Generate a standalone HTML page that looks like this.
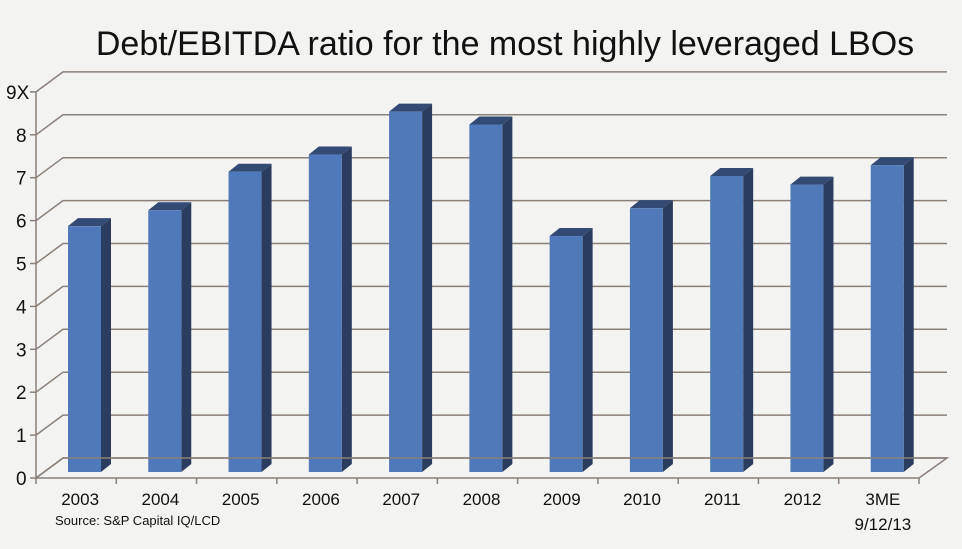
<!DOCTYPE html>
<html><head><meta charset="utf-8"><style>
body{margin:0;background:#f3f3f1;}
svg{display:block;font-family:"Liberation Sans",sans-serif;}
</style></head><body>
<svg width="962" height="549">
<rect x="0" y="0" width="962" height="549" fill="#f3f3f1"/>
<text x="505" y="55" font-size="34" text-anchor="middle" fill="#111">Debt/EBITDA ratio for the most highly leveraged LBOs</text>
<g id="grid"></g><g id="bars"></g><g id="axes"></g>
<text x="55" y="525" font-size="13" fill="#111">Source: S&amp;P Capital IQ/LCD</text>
</svg>
<script>
const categories=["2003","2004","2005","2006","2007","2008","2009","2010","2011","2012","3ME|9/12/13"];
const values=[5.73,6.1,7.0,7.4,8.4,8.1,5.5,6.15,6.9,6.7,7.15];
const ticks=["0","1","2","3","4","5","6","7","8","9X"];
const NS="http://www.w3.org/2000/svg";
function mk(t,a,p){const e=document.createElementNS(NS,t);for(const k in a)e.setAttribute(k,a[k]);p.appendChild(e);return e;}
const X0=36,X1=919,Y0=478,UNIT=42.9,DX=27,DY=-20;
const cw=(X1-X0)/categories.length;
const yF=v=>Y0-v*UNIT;
const g=document.getElementById('grid'),b=document.getElementById('bars'),ax=document.getElementById('axes');
const st="#8a8078";
ticks.forEach((t,i)=>{
  const y=yF(i);
  const l=mk('polyline',{points:`${X0},${y} ${X0+DX},${y+DY} ${X1+DX+1},${y+DY}`,fill:'none',stroke:st,'stroke-width':1.5},g);
  
  
  const tk=mk('line',{x1:X0-6,y1:y,x2:X0,y2:y,stroke:st,'stroke-width':1.5},ax);
  
  
  const tx=mk('text',{x:t.length>1?6:16,y:y+7,'font-size':19,fill:'#111'},ax);
  tx.textContent=t;
  
  
});
const fl=mk('polygon',{points:`${X0},${Y0} ${X0+DX},${Y0+DY} ${X1+DX+1},${Y0+DY} ${X1},${Y0}`,fill:'none',stroke:st,'stroke-width':1.5},ax);


const ya=mk('line',{x1:X0,y1:yF(9),x2:X0,y2:Y0+6,stroke:st,'stroke-width':1.5},ax);


const bw=33,bd=10,bdy=-8,by0=472;
categories.forEach((c,i)=>{
  const xs=X0+i*cw;
  const tk=mk('line',{x1:xs+cw,y1:Y0,x2:xs+cw,y2:Y0+6,stroke:st,'stroke-width':1.5},ax);
  
  
  const x=xs+32,top=by0-values[i]*UNIT;
  const grp=mk('g',{},b);
  
  
  mk('polygon',{points:`${x+bw},${top} ${x+bw+bd},${top+bdy} ${x+bw+bd},${by0+bdy} ${x+bw},${by0}`,fill:'#2b3d5e'},grp);
  mk('polygon',{points:`${x},${top} ${x+bd},${top+bdy} ${x+bw+bd},${top+bdy} ${x+bw},${top}`,fill:'#324a74'},grp);
  mk('rect',{x:x,y:top,width:bw,height:by0-top,fill:'#4f79b8'},grp);
  const parts=c.split('|');
  parts.forEach((p,j)=>{
    const t=mk('text',{x:xs+cw/2+4,y:505+j*25,'font-size':17,'text-anchor':'middle',fill:'#111'},ax);
    t.textContent=p;
    
    
  });
});
</script>
</body></html>
